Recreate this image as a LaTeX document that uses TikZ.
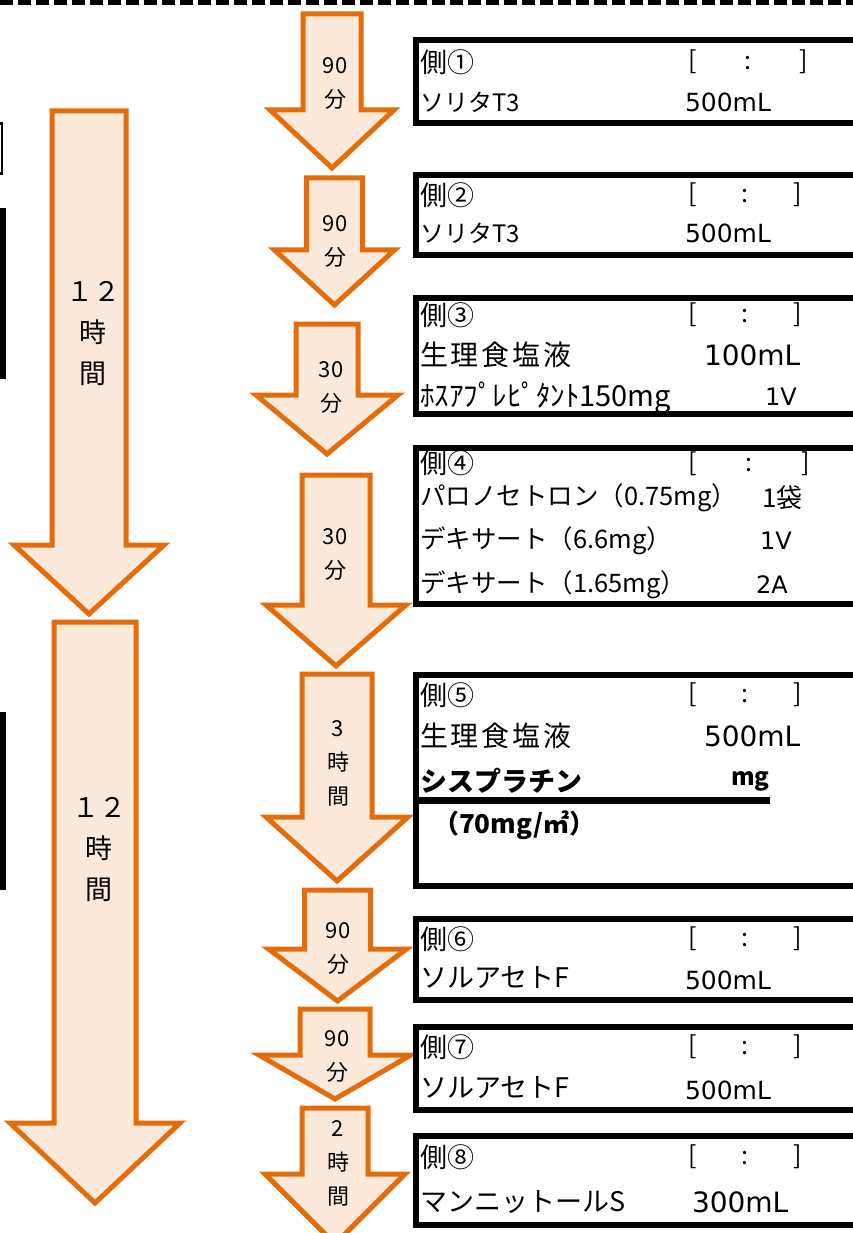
\documentclass[tikz,border=0pt]{standalone}
\usepackage{fontspec}
\setmainfont{Noto Sans CJK JP}
\newfontfamily\numfont{DejaVu Sans}
\usepackage{tikz}
\definecolor{flowline}{HTML}{E46C0A}
\definecolor{flowfill}{HTML}{FDE9D9}

\begin{document}
\begin{tikzpicture}[x=1pt, y=-1pt,
        every node/.style = {inner sep=0pt, outer sep=0pt},
        flow/.style = {draw=flowline, fill=flowfill, line width=5pt, line join=miter},
        panel/.style = {draw=black, line width=6pt},
        dur/.style = {align=center, font={\fontsize{22}{34}\selectfont}},
        daylabel/.style = {align=center, font={\fontsize{27}{41}\selectfont}},
        sidehead/.style = {anchor=west, font={\fontsize{27}{30}\selectfont}},
        clock/.style = {anchor=west, font={\fontsize{25}{30}\selectfont}},
        drug/.style = {anchor=west, font={\fontsize{25.5}{30}\selectfont}},
        drugbig/.style = {anchor=west, font={\fontsize{28}{32}\selectfont\addfontfeatures{LetterSpace=10}}},
        dose/.style = {anchor=west, font={\numfont\fontsize{25}{30}\selectfont}},
        dosebig/.style = {anchor=west, font={\numfont\fontsize{28}{32}\selectfont}}]
        \useasboundingbox (0,0) rectangle (853,1233);
        \clip (0,0) rectangle (853,1233);

        % top rule and cut-off edges on the left
        \draw[line width=4.5pt, dash pattern=on 13pt off 5pt] (0,2.5) -- (853,2.5);
        \draw[line width=2.5pt] (-5,123.5) -- (2,123.5) -- (2,173.5) -- (-5,173.5);
        \fill (0,208) rectangle (6,379);
        \fill (0,712) rectangle (6,890);

        % arrows: centre x / top / shaft half / head base / head half / tip
        \foreach \cx/\ytop/\half/\ybase/\hw/\ytip in {
                332/14/29/110/62/168, 334.5/178/28/250/60/305,
                327/324/31/395/71/454, 336/475/34/605/70/666,
                337/674/35/817/71/881, 337.5/890/33/949/69/1001,
                335/1009/35/1055/76/1099, 335/1108/33/1174/70/1244,
                89/111/37/545/75/614, 95/622/41/1123/85/1203}
            \draw[flow] (\cx-\half,\ytop) -- (\cx+\half,\ytop) -- (\cx+\half,\ybase)
                -- (\cx+\hw,\ybase) -- (\cx,\ytip) -- (\cx-\hw,\ybase)
                -- (\cx-\half,\ybase) -- cycle;

        \node[daylabel] (h1) at (93,334) {１２\\時\\間};
        \node[daylabel] (h2) at (99,849) {１２\\時\\間};

        \node[dur] (d1) at (335,83.5) {90\\分};
        \node[dur] (d2) at (335,241) {90\\分};
        \node[dur] (d3) at (331,387.5) {30\\分};
        \node[dur] (d4) at (335,554.5) {30\\分};
        \node[dur] (d5) at (338,763) {3\\時\\間};
        \node[dur] (d6) at (338,948) {90\\分};
        \node[dur] (d7) at (337,1056.5) {90\\分};
        \node[dur] (d8) at (338,1163) {2\\時\\間};

        % panels
        \draw[panel] (416,40) rectangle (880,123);
        \draw[panel] (416,175) rectangle (880,255);
        \draw[panel] (416,298) rectangle (880,414);
        \draw[panel] (416,448) rectangle (880,604);
        \draw[panel] (416,675) rectangle (880,886);
        \draw[line width=7pt] (416,800) -- (770,800);
        \draw[panel] (416,919) rectangle (880,1000);
        \draw[panel] (416,1027) rectangle (880,1110);
        \draw[panel] (416,1136) rectangle (880,1225);

        \node[sidehead] (s1) at (420,62) {側①};
        \node[clock] (c1) at (688,62) {\makebox[120pt]{[\hfill:\hfill]}};
        \node[drug, font={\fontsize{24}{28}\selectfont}] (m1) at (420,102) {ソリタT3};
        \node[dose] (v1) at (685,102) {500mL};

        \node[sidehead] (s2) at (420,195) {側②};
        \node[clock] (c2) at (688,195) {\makebox[114pt]{[\hfill:\hfill]}};
        \node[drug, font={\fontsize{24}{28}\selectfont}] (m2) at (420,233) {ソリタT3};
        \node[dose] (v2) at (685,233) {500mL};

        \node[sidehead] (s3) at (420,315) {側③};
        \node[clock] (c3) at (688,315) {\makebox[114pt]{[\hfill:\hfill]}};
        \node[drugbig] (m3a) at (420,355) {生理食塩液};
        \node[dosebig] (v3a) at (704,355) {100mL};
        \node[drug, font={\fontsize{29}{32}\selectfont}] (m3b) at (420,397.5) {ﾎｽｱﾌﾟﾚﾋﾟﾀﾝﾄ150mg};
        \node[dose, font={\numfont\fontsize{24}{28}\selectfont}] (v3b) at (765,397) {1V};

        \node[sidehead] (s4) at (420,463) {側④};
        \node[clock] (c4) at (688,464) {\makebox[122pt]{[\hfill:\hfill]}};
        \node[drug] (m4a) at (420,498) {パロノセトロン（0.75mg）};
        \node[drug, font={\fontsize{26}{30}\selectfont}] (v4a) at (762,498) {1袋};
        \node[drug] (m4b) at (420,541) {デキサート（6.6mg）};
        \node[dose, font={\numfont\fontsize{24}{28}\selectfont}] (v4b) at (760,541) {1V};
        \node[drug] (m4c) at (420,585) {デキサート（1.65mg）};
        \node[dose, font={\numfont\fontsize{24}{28}\selectfont}] (v4c) at (756,585) {2A};

        \node[sidehead] (s5) at (420,695) {側⑤};
        \node[clock] (c5) at (688,695) {\makebox[114pt]{[\hfill:\hfill]}};
        \node[drugbig] (m5a) at (420,736) {生理食塩液};
        \node[dosebig] (v5a) at (704,736) {500mL};
        \node[drug, font={\fontsize{27}{30}\selectfont\bfseries}] (m5b) at (420,781) {シスプラチン};
        \node[drug, font={\fontsize{24}{28}\selectfont\bfseries}] (v5b) at (731,781) {mg};
        \node[drug, font={\fontsize{26}{30}\selectfont\bfseries}] (m5c) at (433,825) {（70mg/㎡）};

        \node[sidehead] (s6) at (420,939) {側⑥};
        \node[clock] (c6) at (688,939) {\makebox[114pt]{[\hfill:\hfill]}};
        \node[drug, font={\fontsize{27}{30}\selectfont}] (m6) at (420,978) {ソルアセトF};
        \node[dose] (v6) at (685,980) {500mL};

        \node[sidehead] (s7) at (420,1047) {側⑦};
        \node[clock] (c7) at (688,1047) {\makebox[114pt]{[\hfill:\hfill]}};
        \node[drug, font={\fontsize{27}{30}\selectfont}] (m7) at (420,1088) {ソルアセトF};
        \node[dose] (v7) at (685,1090) {500mL};

        \node[sidehead] (s8) at (420,1157) {側⑧};
        \node[clock] (c8) at (688,1157) {\makebox[114pt]{[\hfill:\hfill]}};
        \node[drug, font={\fontsize{27}{30}\selectfont}] (m8) at (420,1202) {マンニットールS};
        \node[dosebig] (v8) at (692,1202) {300mL};
\end{tikzpicture}
\end{document}
